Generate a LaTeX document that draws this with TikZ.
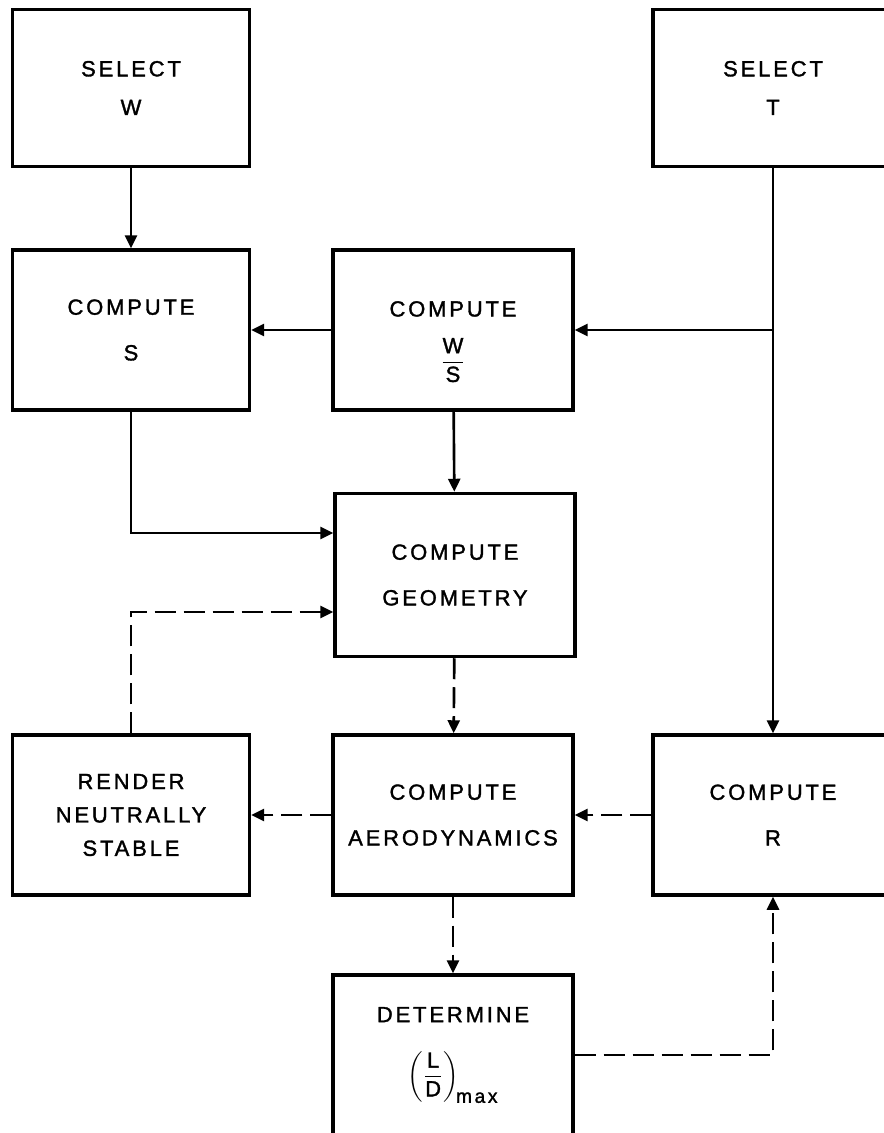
\documentclass[tikz,border=0pt]{standalone}
\usepackage{amsmath}
\usepackage{fontspec}
\setmainfont[LetterSpace=13, FakeBold=1.5]{Liberation Sans}
\usetikzlibrary{arrows.meta}

\tikzset{
  box/.style={draw, line width=2pt, minimum width=4.8cm, minimum height=3.2cm,
    align=center, font=\fontsize{12.5}{26}\selectfont},
  flow/.style={line width=1.5pt, -{Triangle[length=0.26cm,width=0.24cm]}},
  trial/.style={flow, dash pattern=on 0.42cm off 0.16cm}
}

\begin{document}
\begin{tikzpicture}[x=0.02cm, y=-0.02cm]
\useasboundingbox (0,0) rectangle (884,1133);
\clip (0,0) rectangle (884,1133);

% top row
\node [box, minimum width=4.74cm, minimum height=3.14cm] (selectW) at (131,88) {SELECT\\[-4pt] W};
\node [box, minimum height=3.14cm] (selectT) at (773,88) {SELECT\\[-4pt] T};

% second row
\node [box, minimum width=4.74cm] (computeS) at (131,330) {COMPUTE\\ S};
\node [box] (computeWS) at (453,330) {\mbox{}\\[-4pt]COMPUTE\\[3pt] $\dfrac{\text{W}}{\text{S}}$};

\node [box, minimum height=3.26cm] (computeGeo) at (455,575) {COMPUTE\\ GEOMETRY};

% fourth row
\node [box, minimum width=4.74cm] (renderStab) at (131,815) {RENDER\\[-7pt] NEUTRALLY\\[-7pt] STABLE};
\node [box] (computeAero) at (453,815) {COMPUTE\\ AERODYNAMICS};
\node [box] (computeR) at (773,815) {COMPUTE\\ R};

\node [box] (determineLD) at (453,1055) {DETERMINE\\[8pt] $\left(\dfrac{\text{L}}{\text{D}}\right)_{\!\text{\fontsize{11}{11}\selectfont max}}$};

% solid connectors
\draw [flow] (selectW) -- (computeS);
\draw [flow] (selectT) -- (computeR);
\coordinate (tee) at (selectT.south |- computeWS.east);
\draw [flow] (tee) -- (computeWS.east);
\draw [flow] (computeWS) -- (computeS);
\draw [flow] (computeWS) -- (computeGeo);
\draw [flow] (computeS.south) |- ([yshift=0.84cm]computeGeo.west);

% dashed connectors
\draw [trial] (renderStab.north) |- ([yshift=-0.74cm]computeGeo.west);
\draw [trial] (computeGeo) -- (computeAero);
\draw [trial] (computeAero) -- (renderStab);
\draw [trial] (computeR) -- (computeAero);
\draw [trial] (computeAero) -- (determineLD);
\draw [trial] (determineLD.east) -| (computeR.south);
\end{tikzpicture}
\end{document}
